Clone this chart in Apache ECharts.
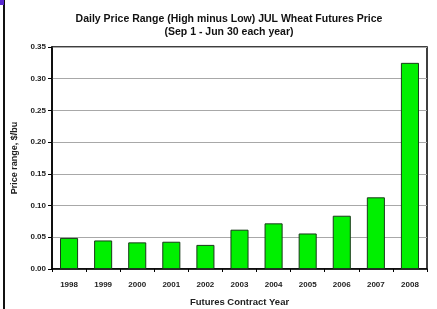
<!DOCTYPE html>
<html>
<head>
<meta charset="utf-8">
<script src="https://cdn.jsdelivr.net/npm/echarts@6/dist/echarts.min.js"></script>
<style>
  html, body { margin: 0; padding: 0; background: #fff; }
  #chart { width: 437px; height: 309px; }
</style>
</head>
<body>
<div id="chart"></div>
<script>
// contract years and average daily range ($/bu)
var years = ['1998', '1999', '2000', '2001', '2002', '2003', '2004', '2005', '2006', '2007', '2008']
var priceRange = [0.049, 0.045, 0.042, 0.043, 0.038, 0.062, 0.072, 0.056, 0.084, 0.113, 0.325]
var yTicks = ['0.00', '0.05', '0.10', '0.15', '0.20', '0.25', '0.30', '0.35']

var chart = echarts.init(document.getElementById('chart'))
var font = 'Liberation Sans, Arial, sans-serif'

chart.setOption({
  animation: false,
  title: {
    text: 'Daily Price Range (High minus Low) JUL Wheat Futures Price\n(Sep 1 - Jun 30 each year)',
    left: 224,
    top: 8,
    textAlign: 'center',
    textStyle: { fontFamily: font, fontSize: 10.5, fontWeight: 'bold', color: '#111', lineHeight: 13 }
  },
  grid: {
    left: 52, right: 10, top: 47, bottom: 40,
    outerBoundsMode: 'none',
    containLabel: false,
    show: true, borderColor: '#000', borderWidth: 1.5, backgroundColor: '#fff'
  },
  xAxis: {
    type: 'category',
    data: years,
    name: 'Futures Contract Year',
    nameLocation: 'middle',
    nameGap: 28,
    nameTextStyle: { fontFamily: font, fontSize: 9.5, fontWeight: 'bold', color: '#222' },
    axisLine: { lineStyle: { color: '#000', width: 1.5 } },
    axisTick: { show: true, length: 3, lineStyle: { color: '#000' } },
    axisLabel: { fontFamily: font, fontSize: 8, fontWeight: 'bold', color: '#222', margin: 12 }
  },
  yAxis: {
    type: 'value',
    min: 0,
    max: 0.35,
    interval: 0.05,
    name: 'Price range, $/bu',
    nameLocation: 'middle',
    nameGap: 33,
    nameTextStyle: { fontFamily: font, fontSize: 9, fontWeight: 'bold', color: '#222' },
    axisLine: { show: true, lineStyle: { color: '#000', width: 1.5 } },
    axisTick: { show: true, length: 4, lineStyle: { color: '#000' } },
    splitLine: { lineStyle: { color: '#a8a8a8', width: 1 } },
    axisLabel: {
      fontFamily: font, fontSize: 8, fontWeight: 'bold', color: '#222', margin: 6,
      formatter: function (v) { return yTicks[Math.round(v / 0.05)] }
    }
  },
  series: [{
    type: 'bar',
    data: priceRange,
    barWidth: '53%',
    itemStyle: { color: '#00f000', borderColor: '#1a3a1a', borderWidth: 1 }
  }],
  graphic: [
    { type: 'rect', shape: { x: 3, y: 0, width: 2, height: 309 }, style: { fill: '#111' } },
    { type: 'rect', shape: { x: 0, y: 0, width: 4, height: 5 }, style: { fill: '#5a2bd0' } }
  ]
})
</script>
</body>
</html>
